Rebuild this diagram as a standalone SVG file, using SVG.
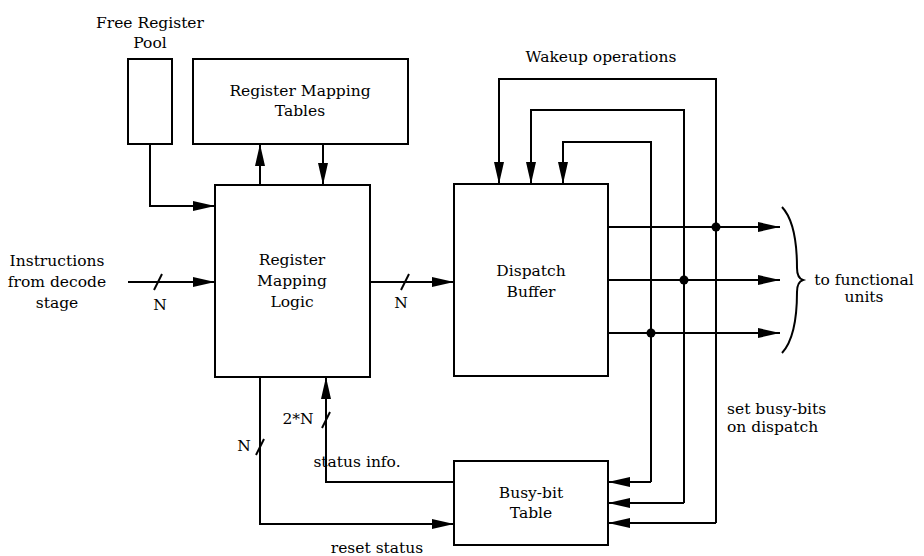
<svg xmlns="http://www.w3.org/2000/svg" width="924" height="556" viewBox="0 0 924 556">
<defs>
<style>
.box{fill:#fff;stroke:#000;stroke-width:2}
.ln{fill:none;stroke:#000;stroke-width:2}
.t{font-family:"DejaVu Serif","Liberation Serif",serif;font-size:15.5px;fill:#000;text-anchor:middle}
.l{text-anchor:start}
</style>
<marker id="ar" viewBox="0 0 22 10" refX="22" refY="5" markerWidth="22" markerHeight="10" markerUnits="userSpaceOnUse" orient="auto">
<path d="M0,0 L22,5 L0,10 z" fill="#000"/>
</marker>
</defs>
<rect width="924" height="556" fill="#fff"/>
<g id="free-pool">
<rect class="box" x="128" y="59" width="44" height="85"/>
<text class="t" x="150" y="28">Free Register</text>
<text class="t" x="150" y="48">Pool</text>
</g>
<g id="mapping-tables">
<rect class="box" x="193" y="59" width="215" height="85"/>
<text class="t" x="300" y="96">Register Mapping</text>
<text class="t" x="300" y="116">Tables</text>
</g>
<g id="mapping-logic">
<rect class="box" x="215" y="185" width="155" height="192"/>
<text class="t" x="292" y="265">Register</text>
<text class="t" x="292" y="286">Mapping</text>
<text class="t" x="292" y="307">Logic</text>
</g>
<g id="dispatch-buffer">
<rect class="box" x="454" y="184" width="154" height="192"/>
<text class="t" x="531" y="276">Dispatch</text>
<text class="t" x="531" y="297">Buffer</text>
</g>
<g id="busy-bit-table">
<rect class="box" x="454" y="461" width="154" height="84"/>
<text class="t" x="531" y="498">Busy-bit</text>
<text class="t" x="531" y="518">Table</text>
</g>
<g id="labels">
<text class="t" x="57" y="266">Instructions</text>
<text class="t" x="57" y="287">from decode</text>
<text class="t" x="57" y="308">stage</text>
<text class="t" x="160" y="310">N</text>
<text class="t" x="401" y="308">N</text>
<text class="t" x="601" y="62">Wakeup operations</text>
<text class="t" x="864" y="285">to functional</text>
<text class="t" x="864" y="302">units</text>
<text class="t l" x="727" y="414">set busy-bits</text>
<text class="t l" x="727" y="432">on dispatch</text>
<text class="t" x="298" y="424">2*N</text>
<text class="t" x="244" y="451">N</text>
<text class="t" x="357" y="467">status info.</text>
<text class="t" x="377" y="553">reset status</text>
</g>
<g id="connectors">
<path class="ln" d="M150,144 V206 H215" marker-end="url(#ar)"/>
<path class="ln" d="M260,185 V144" marker-end="url(#ar)"/>
<path class="ln" d="M323,144 V185" marker-end="url(#ar)"/>
<path class="ln" d="M128,282 H215" marker-end="url(#ar)"/>
<path class="ln" d="M154,290 L162,274"/>
<path class="ln" d="M370,282 H454" marker-end="url(#ar)"/>
<path class="ln" d="M401,290 L409,274"/>
<path class="ln" d="M716,523 V79 H499 V184" marker-end="url(#ar)"/>
<path class="ln" d="M684,503 V110 H531 V184" marker-end="url(#ar)"/>
<path class="ln" d="M651,482 V142 H563 V184" marker-end="url(#ar)"/>
<path class="ln" d="M651,482 H608" marker-end="url(#ar)"/>
<path class="ln" d="M684,503 H608" marker-end="url(#ar)"/>
<path class="ln" d="M716,523 H608" marker-end="url(#ar)"/>
<path class="ln" d="M608,227 H780" marker-end="url(#ar)"/>
<path class="ln" d="M608,280 H780" marker-end="url(#ar)"/>
<path class="ln" d="M608,333 H780" marker-end="url(#ar)"/>
<circle cx="716" cy="227" r="4.5"/>
<circle cx="684" cy="280" r="4.5"/>
<circle cx="651" cy="333" r="4.5"/>
<path class="ln" d="M454,482 H326 V377" marker-end="url(#ar)"/>
<path class="ln" d="M322,428 L330,412"/>
<path class="ln" d="M260,377 V524 H454" marker-end="url(#ar)"/>
<path class="ln" d="M256,455 L264,439"/>
<path class="ln" d="M782,207 C796,222 797,252 797,268 C797,275 800,279 803,280 C800,281 797,285 797,292 C797,308 796,338 782,353"/>
</g>
</svg>
